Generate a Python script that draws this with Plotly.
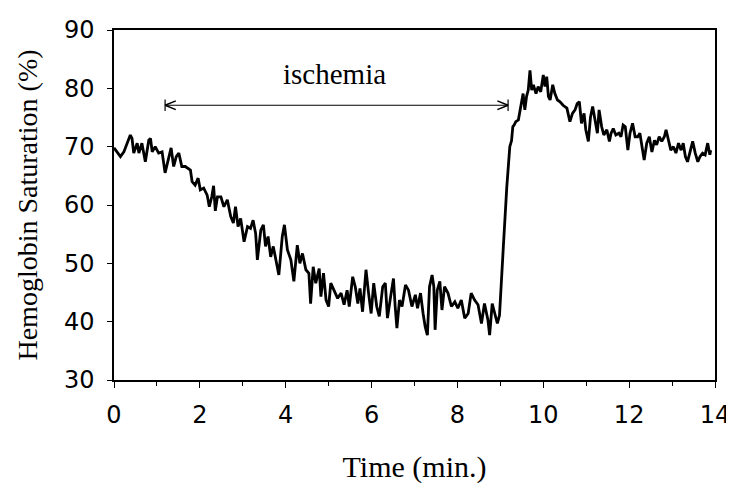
import plotly.graph_objects as go

# Time (min) and hemoglobin saturation (%)
time_min = [
    0.00, 0.07, 0.15, 0.23, 0.30, 0.38, 0.42, 0.46, 0.54, 0.58, 0.65, 0.73, 0.81, 0.85, 0.89, 0.96,
    1.04, 1.12, 1.19, 1.27, 1.33, 1.39, 1.45, 1.51, 1.58, 1.66, 1.78, 1.82, 1.89, 1.96, 2.01, 2.09,
    2.17, 2.22, 2.28, 2.32, 2.36,
    2.41, 2.49, 2.56, 2.64, 2.72, 2.78, 2.83, 2.89, 2.95, 3.03, 3.11, 3.18, 3.24, 3.30, 3.34, 3.42,
    3.48, 3.53, 3.59, 3.65, 3.71, 3.77, 3.84, 3.92, 3.97, 4.04, 4.12, 4.19, 4.27, 4.33, 4.39, 4.47,
    4.54, 4.58, 4.64, 4.70,
    4.78, 4.82, 4.88, 4.94, 5.00, 5.05, 5.13, 5.21, 5.29, 5.36, 5.43, 5.48, 5.56, 5.62, 5.68, 5.73,
    5.79, 5.87, 5.93, 5.99, 6.05, 6.12, 6.18, 6.26, 6.32, 6.37, 6.45, 6.51, 6.55, 6.59, 6.65, 6.71,
    6.79, 6.86, 6.94, 7.02, 7.07,
    7.14, 7.20, 7.25, 7.30, 7.35, 7.41, 7.45, 7.48, 7.53, 7.59, 7.64, 7.70, 7.78, 7.86, 7.94, 8.01,
    8.09, 8.17, 8.25, 8.32, 8.40, 8.48, 8.56, 8.63, 8.71, 8.75, 8.81, 8.87, 8.93, 8.98, 9.02, 9.07,
    9.15, 9.22, 9.26,
    9.29, 9.32, 9.36, 9.42, 9.46, 9.50, 9.53, 9.57, 9.61, 9.65, 9.69, 9.73, 9.77, 9.83, 9.88, 9.94,
    10.00, 10.04, 10.08, 10.12, 10.16, 10.22, 10.27, 10.33, 10.39, 10.46, 10.55, 10.62, 10.68, 10.74,
    10.79, 10.84, 10.89, 10.95, 10.99, 11.05, 11.10, 11.15, 11.20, 11.26, 11.30, 11.36, 11.41, 11.48,
    11.54,
    11.58, 11.63, 11.69, 11.76, 11.81, 11.86, 11.91, 11.97, 12.02, 12.08, 12.14, 12.20, 12.25, 12.30,
    12.35, 12.41, 12.47, 12.53, 12.59, 12.64, 12.70, 12.76, 12.82, 12.86, 12.92, 12.97, 13.03, 13.09,
    13.15, 13.21, 13.26, 13.31, 13.36, 13.42, 13.48, 13.54, 13.60, 13.65, 13.71, 13.77, 13.83, 13.88,
    13.90,
]

saturation = [
    69.8, 69.1, 68.3, 69.1, 70.6, 72.0, 71.4, 68.9, 70.6, 68.9, 70.6, 67.4, 71.1, 71.4, 69.1, 70.0,
    68.9, 69.1, 65.5, 68.3, 69.8, 66.6, 68.3, 68.9, 66.6, 66.6, 66.0, 64.0, 63.4, 64.6, 62.6, 62.9,
    61.7, 59.7, 61.5, 63.3, 59.0,
    61.4, 61.4, 59.7, 60.9, 58.0, 56.9, 59.7, 56.3, 57.7, 53.7, 56.3, 56.0, 57.4, 55.1, 50.6, 55.7,
    56.6, 52.9, 54.6, 51.1, 52.9, 50.6, 48.0, 54.6, 56.6, 52.3, 50.6, 46.9, 53.1, 50.0, 51.7, 48.9,
    48.3, 43.1, 49.4, 46.6,
    49.1, 44.3, 48.3, 43.7, 42.6, 46.6, 45.4, 44.0, 44.9, 42.9, 45.4, 42.6, 47.7, 46.0, 43.1, 45.7,
    41.7, 48.9, 44.9, 41.4, 46.6, 42.6, 40.9, 46.0, 46.6, 40.6, 44.6, 47.4, 42.6, 38.9, 43.7, 42.6,
    46.3, 45.4, 42.6, 44.6, 42.3,
    44.9, 41.4, 39.1, 37.7, 46.0, 48.0, 46.0, 38.6, 45.4, 46.9, 42.0, 46.0, 44.9, 42.6, 43.4, 42.3,
    43.7, 40.6, 41.4, 44.9, 43.7, 42.9, 39.7, 43.1, 40.3, 37.7, 43.1, 41.4, 39.7, 41.1, 47.1, 52.9,
    63.1, 70.0, 71.0,
    73.4, 73.7, 74.3, 74.6, 76.3, 77.4, 79.1, 76.3, 78.6, 79.7, 83.1, 79.7, 80.6, 79.1, 80.3, 79.4,
    82.3, 80.3, 82.0, 78.6, 78.0, 80.6, 79.1, 78.0, 77.7, 77.1, 76.6, 74.3, 75.7, 76.3,
    77.4, 77.7, 74.0, 75.7, 72.9, 70.9, 75.1, 76.9, 74.6, 72.3, 76.3, 73.4, 72.0, 72.9,
    70.9,
    72.3, 73.1, 72.0, 72.3, 71.7, 73.7, 73.4, 69.4, 72.3, 74.0, 71.7, 71.7, 72.3, 70.0,
    67.7, 70.6, 71.7, 69.1, 71.1, 70.3, 71.7, 70.9, 71.7, 72.9, 71.1, 69.4, 70.0, 68.9,
    70.6, 69.4, 70.6, 68.3, 67.4, 69.4, 70.9, 68.9, 67.4, 68.3, 68.9, 68.6, 70.6, 68.6,
    69.4,
]

x_ticks = [0, 2, 4, 6, 8, 10, 12, 14]
y_ticks = [30, 40, 50, 60, 70, 80, 90]

ischemia_start = 1.19
ischemia_end = 9.18
ischemia_level = 77.1
ischemia_label = "ischemia"

fig = go.Figure()
fig.add_trace(go.Scatter(
    x=time_min, y=saturation, mode="lines",
    line=dict(color="black", width=2.8), showlegend=False, hoverinfo="skip",
))

# ischemia bracket: horizontal line, end bars and open arrowheads
shapes = [
    dict(type="line", xref="x", yref="y", x0=ischemia_start, x1=ischemia_end,
         y0=ischemia_level, y1=ischemia_level, line=dict(color="black", width=1.2)),
    dict(type="line", xref="x", yref="y", x0=ischemia_start, x1=ischemia_start,
         y0=ischemia_level - 1.0, y1=ischemia_level + 1.0, line=dict(color="black", width=1.2)),
    dict(type="line", xref="x", yref="y", x0=ischemia_end, x1=ischemia_end,
         y0=ischemia_level - 1.0, y1=ischemia_level + 1.0, line=dict(color="black", width=1.2)),
]
hl = 0.25
hh = 0.75
for x0, sgn in [(ischemia_start, 1), (ischemia_end, -1)]:
    for dy in (hh, -hh):
        shapes.append(dict(type="line", xref="x", yref="y", x0=x0, x1=x0 + sgn * hl,
                           y0=ischemia_level, y1=ischemia_level + dy,
                           line=dict(color="black", width=1.5)))

# the page body adds an 8 px offset, so the figure is sized to fit inside the window
fig.update_layout(
    width=726, height=479,
    margin=dict(l=106, r=19, t=22, b=107, autoexpand=False),
    paper_bgcolor="white", plot_bgcolor="white",
    shapes=shapes,
    annotations=[dict(x=(ischemia_start + ischemia_end) / 2 - 0.05, y=82.4, xref="x", yref="y",
                      text=ischemia_label, showarrow=False,
                      font=dict(family="Liberation Serif", size=29, color="black"))],
    font=dict(color="black"),
)

fig.update_xaxes(
    range=[0, 14], tickvals=x_ticks, ticktext=[str(v) for v in x_ticks],
    ticks="outside", ticklen=6, tickwidth=1.2, tickcolor="black",
    minor=dict(dtick=1, ticks="outside", ticklen=4, tickwidth=1.2, tickcolor="black", showgrid=False),
    showline=True, linecolor="black", linewidth=1.5, mirror=True,
    showgrid=False, zeroline=False, automargin=False,
    tickfont=dict(family="DejaVu Sans", size=24, color="black"),
    ticklabelstandoff=6,
    title=dict(text="Time (min.)", font=dict(family="Liberation Serif", size=30, color="black"), standoff=28),
)
fig.update_yaxes(
    range=[30, 90], tickvals=y_ticks, ticktext=[str(v) for v in y_ticks],
    ticks="outside", ticklen=5, tickwidth=1.2, tickcolor="black",
    showline=True, linecolor="black", linewidth=1.5, mirror=True,
    showgrid=False, zeroline=False, automargin=False,
    tickfont=dict(family="DejaVu Sans", size=24, color="black"),
    ticklabelstandoff=8,
    title=dict(text="Hemoglobin Saturation (%)", font=dict(family="Liberation Serif", size=28, color="black"), standoff=18),
)

fig.write_html("out.html")
